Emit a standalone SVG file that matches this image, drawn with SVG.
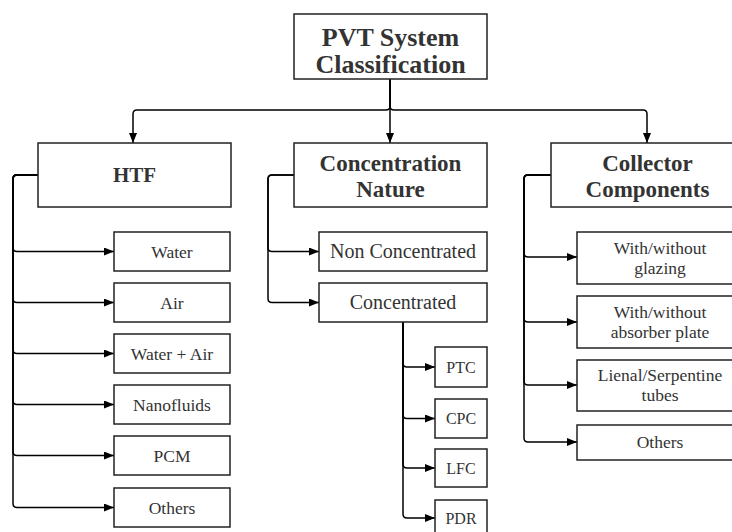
<svg xmlns="http://www.w3.org/2000/svg" width="732" height="532" viewBox="0 0 732 532">
<defs>
<marker id="arr" markerUnits="userSpaceOnUse" markerWidth="11" markerHeight="8" refX="10" refY="4" orient="auto">
<path d="M0,0 L10,4 L0,8 z" fill="#000"/>
</marker>
<style>
.box{fill:#fff;stroke:#222;stroke-width:1.5}
.hd{font-family:"Liberation Serif",serif;font-weight:bold;fill:#333;text-anchor:middle}
.tx{font-family:"Liberation Serif",serif;fill:#333;text-anchor:middle}
.cn{fill:none;stroke:#000;stroke-width:1.5;marker-end:url(#arr)}
</style>
</defs>
<rect width="732" height="532" fill="#fff"/>
<g id="connectors">
<path class="cn" d="M390,79 V106 Q390,110 386,110 H137 Q133,110 133,114 V143"/>
<path class="cn" d="M390,79 V143"/>
<path class="cn" d="M390,79 V106 Q390,110 394,110 H643 Q647,110 647,114 V143"/>
<path class="cn" d="M38,175 H17 Q13,175 13,179 V247.5 Q13,251.5 17,251.5 H114"/>
<path class="cn" d="M38,175 H17 Q13,175 13,179 V298.5 Q13,302.5 17,302.5 H114"/>
<path class="cn" d="M38,175 H17 Q13,175 13,179 V349.5 Q13,353.5 17,353.5 H114"/>
<path class="cn" d="M38,175 H17 Q13,175 13,179 V400.5 Q13,404.5 17,404.5 H114"/>
<path class="cn" d="M38,175 H17 Q13,175 13,179 V451.5 Q13,455.5 17,455.5 H114"/>
<path class="cn" d="M38,175 H17 Q13,175 13,179 V503.5 Q13,507.5 17,507.5 H114"/>
<path class="cn" d="M294,175 H272 Q268,175 268,179 V247.5 Q268,251.5 272,251.5 H319"/>
<path class="cn" d="M294,175 H272 Q268,175 268,179 V298.5 Q268,302.5 272,302.5 H319"/>
<path class="cn" d="M403,322 V363 Q403,367 407,367 H435"/>
<path class="cn" d="M403,322 V414.5 Q403,418.5 407,418.5 H435"/>
<path class="cn" d="M403,322 V464 Q403,468 407,468 H435"/>
<path class="cn" d="M403,322 V514 Q403,518 407,518 H435"/>
<path class="cn" d="M551,175 H528 Q524,175 524,179 V253 Q524,257 528,257 H577"/>
<path class="cn" d="M551,175 H528 Q524,175 524,179 V318 Q524,322 528,322 H577"/>
<path class="cn" d="M551,175 H528 Q524,175 524,179 V381 Q524,385 528,385 H577"/>
<path class="cn" d="M551,175 H528 Q524,175 524,179 V438 Q524,442 528,442 H577"/>
</g>
<g id="root">
<rect class="box" x="294" y="14" width="193" height="65"/>
<text class="hd" x="390.5" y="46" font-size="26">PVT System</text>
<text class="hd" x="390.5" y="73" font-size="26">Classification</text>
</g>
<g id="htf">
<rect class="box" x="38" y="143" width="193" height="64"/>
<text class="hd" x="134.5" y="182" font-size="21">HTF</text>
</g>
<g id="concentration">
<rect class="box" x="294" y="143" width="193" height="64"/>
<text class="hd" x="390.5" y="171" font-size="23">Concentration</text>
<text class="hd" x="390.5" y="197" font-size="23">Nature</text>
</g>
<g id="collector">
<rect class="box" x="551" y="143" width="193" height="64"/>
<text class="hd" x="647.5" y="171" font-size="23">Collector</text>
<text class="hd" x="647.5" y="197" font-size="23">Components</text>
</g>
<g id="water"><rect class="box" x="114" y="232" width="116" height="39"/><text class="tx" x="172" y="257.5" font-size="17.5">Water</text></g>
<g id="air"><rect class="box" x="114" y="283" width="116" height="39"/><text class="tx" x="172" y="308.5" font-size="17.5">Air</text></g>
<g id="waterair"><rect class="box" x="114" y="334" width="116" height="39"/><text class="tx" x="172" y="359.5" font-size="17.5">Water + Air</text></g>
<g id="nanofluids"><rect class="box" x="114" y="385" width="116" height="39"/><text class="tx" x="172" y="410.5" font-size="17.5">Nanofluids</text></g>
<g id="pcm"><rect class="box" x="114" y="436" width="116" height="39"/><text class="tx" x="172" y="461.5" font-size="17.5">PCM</text></g>
<g id="others1"><rect class="box" x="114" y="488" width="116" height="39"/><text class="tx" x="172" y="513.5" font-size="17.5">Others</text></g>
<g id="nonconc"><rect class="box" x="319" y="232" width="168" height="39"/><text class="tx" x="403" y="258" font-size="20">Non Concentrated</text></g>
<g id="conc"><rect class="box" x="319" y="283" width="168" height="39"/><text class="tx" x="403" y="309" font-size="20">Concentrated</text></g>
<g id="ptc"><rect class="box" x="435" y="347" width="52" height="40"/><text class="tx" x="461" y="373" font-size="16">PTC</text></g>
<g id="cpc"><rect class="box" x="435" y="399" width="52" height="39"/><text class="tx" x="461" y="424" font-size="16">CPC</text></g>
<g id="lfc"><rect class="box" x="435" y="449" width="52" height="38"/><text class="tx" x="461" y="474" font-size="16">LFC</text></g>
<g id="pdr"><rect class="box" x="435" y="500" width="52" height="38"/><text class="tx" x="461" y="524" font-size="16">PDR</text></g>
<g id="glazing"><rect class="box" x="577" y="232" width="167" height="52"/><text class="tx" x="660" y="254" font-size="17.5">With/without</text><text class="tx" x="660" y="274" font-size="17.5">glazing</text></g>
<g id="absorber"><rect class="box" x="577" y="296" width="167" height="52"/><text class="tx" x="660" y="318" font-size="17.5">With/without</text><text class="tx" x="660" y="338" font-size="17.5">absorber plate</text></g>
<g id="tubes"><rect class="box" x="577" y="360" width="167" height="51"/><text class="tx" x="660" y="381" font-size="17.5">Lienal/Serpentine</text><text class="tx" x="660" y="401" font-size="17.5">tubes</text></g>
<g id="others3"><rect class="box" x="577" y="425" width="167" height="35"/><text class="tx" x="660" y="448" font-size="17.5">Others</text></g>
</svg>
